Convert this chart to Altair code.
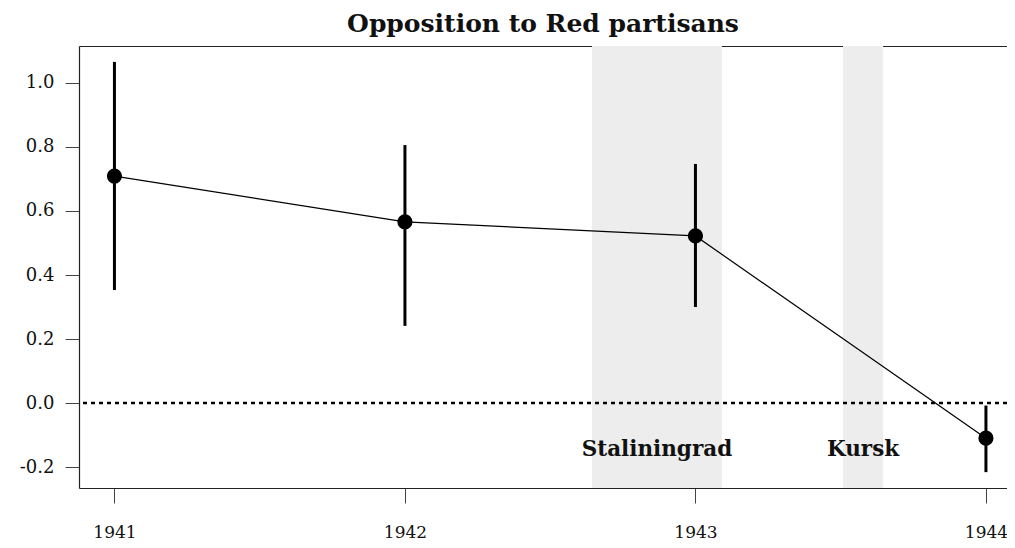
import altair as alt
import pandas as pd

# ---- data ----
years = [1941, 1942, 1943, 1944]
estimate = [0.709, 0.566, 0.522, -0.110]
ci_low = [0.353, 0.241, 0.300, -0.216]
ci_high = [1.066, 0.806, 0.747, -0.008]

event_names = ["Staliningrad", "Kursk"]
event_start = [1942.644, 1943.508]
event_end = [1943.091, 1943.646]
event_label_y = [-0.147, -0.147]

ref_value = [0.0]
y_ticks = [-0.2, 0.0, 0.2, 0.4, 0.6, 0.8, 1.0]

# ---- tables ----
df = pd.DataFrame({"year": years, "est": estimate, "lo": ci_low, "hi": ci_high})
ev = pd.DataFrame({"name": event_names, "start": event_start, "end": event_end,
                   "ly": event_label_y})
ev["mid"] = (ev["start"] + ev["end"]) / 2
ref = pd.DataFrame({"v": ref_value})

W, H = 928, 442
xdom = [1940.878, 1940.878 + W / 290.5]
ydom = [-0.2656, 1.1156]
FONT = "DejaVu Serif"

xs = alt.Scale(domain=xdom, nice=False, zero=False)
ys = alt.Scale(domain=ydom, nice=False, zero=False)

x_bottom = alt.Axis(values=years, format="d", title=None, grid=False,
                    domain=True, domainColor="#222", domainWidth=1.2,
                    ticks=True, tickSize=15, tickColor="#444", tickWidth=1,
                    labelFont=FONT, labelFontSize=17, labelColor="#111",
                    labelPadding=21, labelBaseline="top", labelOverlap=False,
                    labelBound=False, labelFlush=False)
x_top = alt.Axis(orient="top", title=None, grid=False, ticks=False, labels=False,
                 domain=True, domainColor="#222", domainWidth=1.2)
y_axis = alt.Axis(values=y_ticks, title=None, grid=False,
                  labelExpr="replace(format(datum.value, '.1f'), '\u2212', '-')",
                  domain=True, domainColor="#222", domainWidth=1.2,
                  ticks=True, tickSize=14, tickColor="#444", tickWidth=1,
                  labelFont=FONT, labelFontSize=18, labelColor="#111",
                  labelPadding=11)

bands = alt.Chart(ev).mark_rect(color="#ededed").encode(
    x=alt.X("start:Q", scale=xs, axis=x_top),
    x2="end:Q",
)

labels = alt.Chart(ev).mark_text(font=FONT, fontSize=21.5, fontWeight="bold",
                                 color="#111", baseline="middle", align="center").encode(
    x=alt.X("mid:Q", scale=xs, axis=None),
    y=alt.Y("ly:Q", scale=ys, axis=y_axis),
    text="name:N",
)

zero = alt.Chart(ref).mark_rule(color="black", strokeWidth=2.6,
                                strokeDash=[4, 4]).encode(
    y=alt.Y("v:Q", scale=ys, axis=y_axis),
)

bars = alt.Chart(df).mark_rule(color="black", strokeWidth=3).encode(
    x=alt.X("year:Q", scale=xs, axis=None),
    y=alt.Y("lo:Q", scale=ys, axis=y_axis),
    y2="hi:Q",
)

line = alt.Chart(df).mark_line(color="black", strokeWidth=1.2).encode(
    x=alt.X("year:Q", scale=xs, axis=x_bottom),
    y=alt.Y("est:Q", scale=ys, axis=y_axis),
)

points = alt.Chart(df).mark_circle(color="black", opacity=1, size=230).encode(
    x=alt.X("year:Q", scale=xs, axis=None),
    y=alt.Y("est:Q", scale=ys, axis=y_axis),
)

chart = alt.layer(bands, labels, zero, bars, line, points).resolve_axis(
    x="independent", y="shared"
).properties(
    width=W, height=H,
    title=alt.TitleParams("Opposition to Red partisans", font=FONT, fontSize=25,
                          fontWeight="bold", color="#111", anchor="middle",
                          offset=9),
    autosize=alt.AutoSizeParams(type="none"),
    padding={"left": 71, "top": 38, "right": 0, "bottom": 52},
).configure_view(stroke=None).configure(background="white")

chart.save("out.html", embed_options={"renderer": "svg", "actions": False})
